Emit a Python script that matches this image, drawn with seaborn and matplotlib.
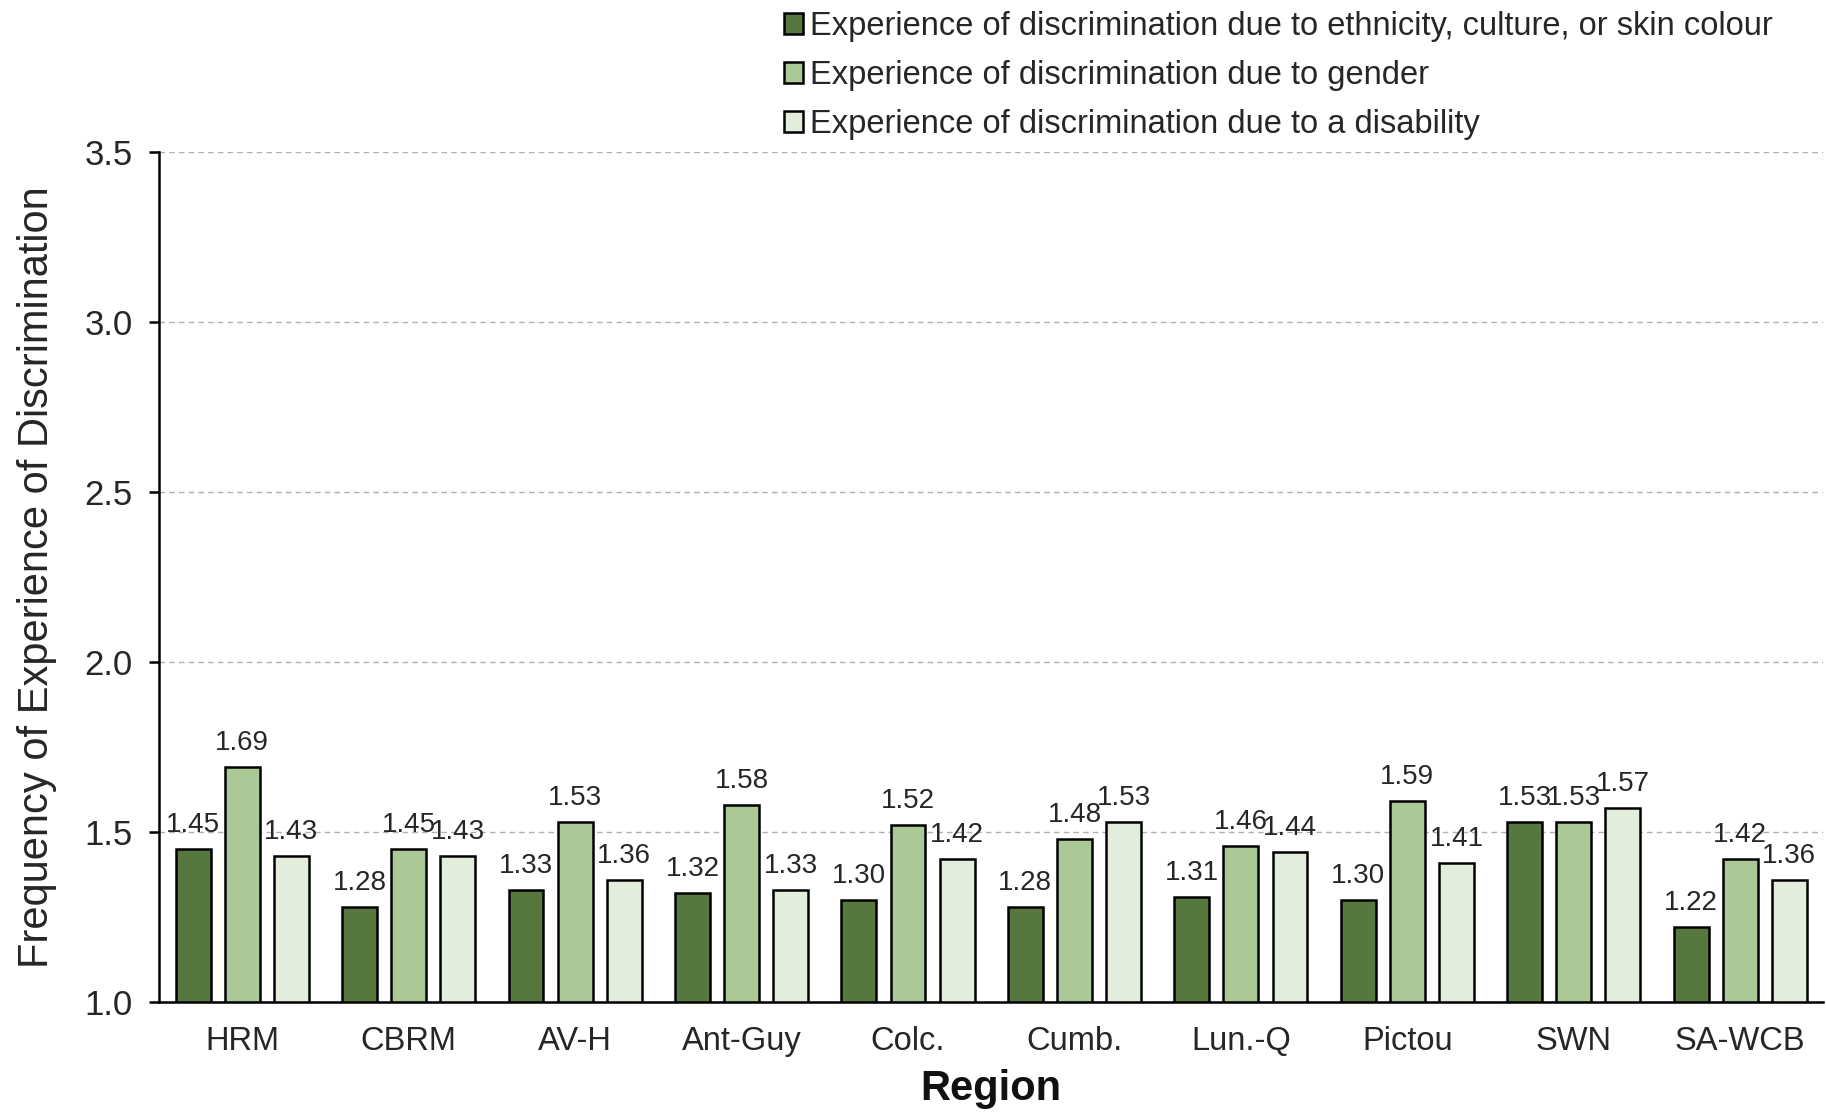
import numpy as np
import pandas as pd
import matplotlib
matplotlib.use('Agg')
import matplotlib.pyplot as plt
import seaborn as sns

# data
regions = ['HRM', 'CBRM', 'AV-H', 'Ant-Guy', 'Colc.', 'Cumb.', 'Lun.-Q', 'Pictou', 'SWN', 'SA-WCB']
ethnicity = [1.45, 1.28, 1.33, 1.32, 1.30, 1.28, 1.31, 1.30, 1.53, 1.22]
gender = [1.69, 1.45, 1.53, 1.58, 1.52, 1.48, 1.46, 1.59, 1.53, 1.42]
disability = [1.43, 1.43, 1.36, 1.33, 1.42, 1.53, 1.44, 1.41, 1.57, 1.36]
series_names = ['Experience of discrimination due to ethnicity, culture, or skin colour',
                'Experience of discrimination due to gender',
                'Experience of discrimination due to a disability']
colors = ['#548235', '#A9D18E', '#E2F0D9']

df = pd.DataFrame({'Region': regions * 3,
                   'Value': ethnicity + gender + disability,
                   'Type': [series_names[0]] * 10 + [series_names[1]] * 10 + [series_names[2]] * 10})

sns.set_style('white')
plt.rcParams['font.family'] = ['Liberation Sans', 'DejaVu Sans']

fig = plt.figure(figsize=(18.26, 11.14), dpi=100)
ax = fig.add_axes([0.0871, 0.1005, 0.9115, 0.7631])

sns.barplot(data=df, x='Region', y='Value', hue='Type', order=regions, hue_order=series_names,
            palette=colors, width=0.885, gap=0.29, edgecolor='black', linewidth=1.8,
            errorbar=None, ax=ax)

for c in ax.containers:
    ax.bar_label(c, fmt='%.2f', padding=8, fontsize=20, color='#262626')

ax.set_ylim(1.0, 3.5)
ax.set_xlim(-0.5, 9.5)
ax.set_yticks(np.arange(1.0, 3.51, 0.5))
ax.set_yticklabels([f'{v:.1f}' for v in np.arange(1.0, 3.51, 0.5)])
ax.yaxis.grid(True, linestyle=(0, (4, 3)), color='#b0b0b0', linewidth=1.0)
ax.set_axisbelow(True)
for s in ['top', 'right']:
    ax.spines[s].set_visible(False)
for s in ['left', 'bottom']:
    ax.spines[s].set_color('black')
    ax.spines[s].set_linewidth(1.8)

ax.set_xticks(np.arange(-0.5, 10, 1), minor=True)
ax.tick_params(axis='x', which='major', length=0, labelsize=23.5, labelcolor='#262626', pad=17)
ax.tick_params(axis='x', which='minor', length=8, width=1.8, color='black', direction='out')
ax.tick_params(axis='y', length=7, width=1.8, color='black', direction='out', labelsize=25,
               labelcolor='#262626', left=True, pad=12)

ax.set_xlabel('Region', fontsize=30, fontweight='bold', labelpad=9, color='#111111')
ax.set_ylabel('Frequency of Experience of Discrimination', fontsize=30, color='#262626', labelpad=20)

handles, labels = ax.get_legend_handles_labels()
ax.legend(handles, labels, loc='upper left', bbox_to_anchor=(0.422, 1.002), bbox_transform=fig.transFigure,
          frameon=False, fontsize=23.5, handlelength=0.6, handleheight=0.6, handletextpad=0.2,
          labelspacing=0.55, borderaxespad=0)

fig.savefig('out.png', dpi=100)
